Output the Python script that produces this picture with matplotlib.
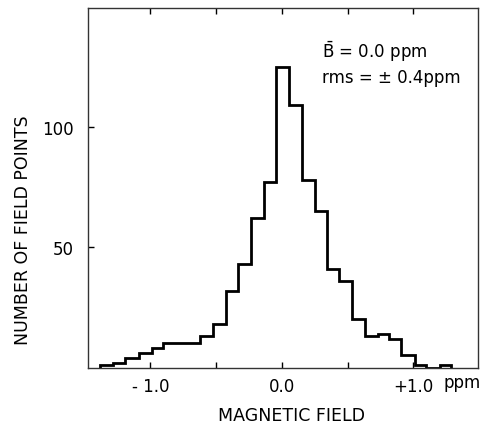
import matplotlib
matplotlib.use("Agg")
import matplotlib.pyplot as plt

# bin edges (ppm) and counts
bin_edges = [-1.379, -1.283, -1.194, -1.085, -0.991, -0.907, -0.811, -0.716,
             -0.624, -0.522, -0.426, -0.332, -0.238, -0.137, -0.046, 0.056,
             0.150, 0.251, 0.340, 0.433, 0.530, 0.631, 0.728, 0.816, 0.910,
             1.011, 1.100, 1.202, 1.290]
counts = [1, 2, 4, 6, 8, 10, 10, 10, 13, 18, 32, 43, 62, 77, 125, 109,
          78, 65, 41, 36, 20, 13, 14, 12, 5, 1, 0, 1]

x_ticks = [-1.0, -0.5, 0.0, 0.5, 1.0]
x_tick_labels = ["- 1.0", "", "0.0", "", "+1.0"]
y_ticks = [50, 100]
y_tick_labels = ["50", "100"]

plt.rcParams["font.family"] = ["DejaVu Sans"]
plt.rcParams["mathtext.fontset"] = "dejavusans"

W, H = 487, 427
fig = plt.figure(figsize=(W / 100, H / 100), dpi=100)
ax = fig.add_axes([88 / W, 1 - 368.5 / H, 390 / W, 359.5 / H])

ax.stairs(counts, bin_edges, color="black", linewidth=2.0, baseline=0)

ax.set_xlim(-1.474, 1.492)
ax.set_ylim(0, 149.5)

ax.set_xticks(x_ticks)
ax.set_xticklabels(x_tick_labels)
ax.set_yticks(y_ticks)
ax.set_yticklabels(y_tick_labels)
ax.tick_params(axis="both", direction="in", length=4, width=1.0,
               labelsize=12)
ax.tick_params(axis="x", top=True, pad=7)
ax.tick_params(axis="y", pad=10)

for spine in ax.spines.values():
    spine.set_linewidth(1.0)
    spine.set_color("#333333")

# axis titles placed where the reference has them (ylabel sits low)
fig.text(291 / W, 1 - 416 / H, "MAGNETIC FIELD", fontsize=12.5,
         ha="center", va="center")
fig.text(23 / W, 1 - 230 / H, "NUMBER OF FIELD POINTS", fontsize=12.5,
         ha="center", va="center", rotation=90)

fig.text(462 / W, 1 - 383 / H, "ppm", fontsize=12, ha="center",
         va="center")

ax.text(0.6, 0.88, r"$\bar{\mathrm{B}}$ = 0.0 ppm", transform=ax.transAxes,
        fontsize=12, ha="left", va="center")
ax.text(0.6, 0.808, "rms = \u00b1 0.4ppm", transform=ax.transAxes,
        fontsize=12, ha="left", va="center")

fig.savefig("out.png", dpi=100)
